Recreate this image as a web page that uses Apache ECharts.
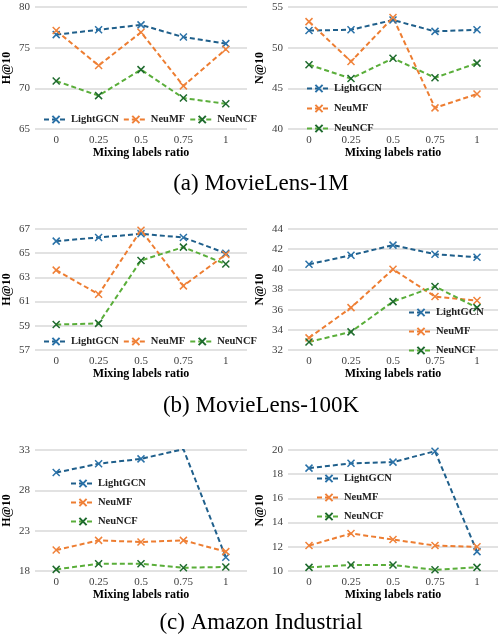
<!DOCTYPE html>
<html>
<head>
<meta charset="utf-8">
<script src="https://cdn.jsdelivr.net/npm/echarts@6/dist/echarts.min.js"></script>
<style>
	html, body { margin: 0; padding: 0; background: #fff; }
	#chart { width: 498px; height: 634px; }
</style>
</head>
<body>
<div id="chart"></div>
<script>
//Data
let ratios = ['0', '0.25', '0.5', '0.75', '1'];
let methods = ['LightGCN', 'NeuMF', 'NeuNCF'];

//MovieLens-1M
let ml1mHit = [
	[76.6, 77.2, 77.8, 76.3, 75.5],
	[77.1, 72.8, 76.9, 70.3, 74.8],
	[70.9, 69.1, 72.3, 68.8, 68.1]
];
let ml1mNdcg = [
	[52.1, 52.2, 53.4, 52.0, 52.2],
	[53.2, 48.3, 53.7, 42.6, 44.3],
	[47.9, 46.2, 48.7, 46.3, 48.1]
];
//MovieLens-100K
let ml100kHit = [
	[66.0, 66.3, 66.6, 66.3, 65.0],
	[63.6, 61.6, 66.9, 62.3, 64.9],
	[59.1, 59.2, 64.4, 65.5, 64.1]
];
let ml100kNdcg = [
	[40.5, 41.4, 42.4, 41.5, 41.2],
	[33.2, 36.2, 40.0, 37.3, 36.9],
	[32.8, 33.8, 36.8, 38.3, 36.2]
];
//Amazon Industrial
let amzHit = [
	[30.2, 31.3, 31.9, 33.1, 19.7],
	[20.6, 21.8, 21.6, 21.8, 20.4],
	[18.2, 18.9, 18.9, 18.4, 18.5]
];
let amzNdcg = [
	[18.5, 18.9, 19.0, 19.9, 11.6],
	[12.1, 13.1, 12.6, 12.1, 12.0],
	[10.3, 10.5, 10.5, 10.1, 10.3]
];

let captions = ['(a) MovieLens-1M', '(b) MovieLens-100K', '(c) Amazon Industrial'];

let lineColors = ['#1F5F8B', '#ED7D31', '#5AAE3A'];
let markColors = ['#2B72A8', '#F0823A', '#1F6B2E'];
let serif = '"Liberation Serif", "DejaVu Serif", serif';
let cross = 'path://M0,0L10,10M0,10L10,0';

//Panels: data, axis range, grid box, legend placement
let panels = [
	{ data: ml1mHit, name: 'H@10', min: 65, max: 80, step: 5, top: 7, bottom: 129, left: 33, width: 214,
		legend: { orient: 'horizontal', left: 43, top: 114, itemGap: 4 } },
	{ data: ml1mNdcg, name: 'N@10', min: 40, max: 55, step: 5, top: 7, bottom: 129, left: 288, width: 210,
		legend: { orient: 'vertical', left: 306, top: 83, itemGap: 9 } },
	{ data: ml100kHit, name: 'H@10', min: 57, max: 67, step: 2, top: 229, bottom: 350, left: 33, width: 214,
		legend: { orient: 'horizontal', left: 43, top: 336, itemGap: 4 } },
	{ data: ml100kNdcg, name: 'N@10', min: 32, max: 44, step: 2, top: 229, bottom: 350, left: 288, width: 210,
		legend: { orient: 'vertical', left: 408, top: 307, itemGap: 8 } },
	{ data: amzHit, name: 'H@10', min: 18, max: 33, step: 5, top: 450, bottom: 571, left: 33, width: 214,
		legend: { orient: 'vertical', left: 70, top: 478, itemGap: 8 } },
	{ data: amzNdcg, name: 'N@10', min: 10, max: 20, step: 2, top: 450, bottom: 571, left: 288, width: 210,
		legend: { orient: 'vertical', left: 316, top: 473, itemGap: 8 } }
];

let grids = [], xAxes = [], yAxes = [], legends = [], series = [];

panels.forEach(function (p, i) {
	grids.push({ left: p.left, top: p.top, width: p.width, height: p.bottom - p.top });
	xAxes.push({
		type: 'category', gridIndex: i, data: ratios, boundaryGap: true,
		name: 'Mixing labels ratio', nameLocation: 'middle', nameGap: 15,
		nameTextStyle: { fontFamily: serif, fontWeight: 'bold', fontSize: 12, color: '#000' },
		axisLine: { show: false }, axisTick: { show: false },
		axisLabel: { fontFamily: serif, fontSize: 11, color: '#404040', margin: 6 }
	});
	yAxes.push({
		type: 'value', gridIndex: i, min: p.min, max: p.max, interval: p.step,
		name: p.name, nameLocation: 'middle', nameGap: 22,
		nameTextStyle: { fontFamily: serif, fontWeight: 'bold', fontSize: 12, color: '#000' },
		axisLine: { show: false }, axisTick: { show: false },
		axisLabel: { fontFamily: serif, fontSize: 11, color: '#404040', margin: 5 },
		splitLine: { lineStyle: { color: '#D9D9D9', width: 1.5 } }
	});
	legends.push(Object.assign({
		data: methods, itemWidth: 24, itemHeight: 9, padding: 0,
		selectedMode: false,
		textStyle: { fontFamily: serif, fontWeight: 'bold', fontSize: 10.5, color: '#222', padding: [0, 0, 0, -2] }
	}, p.legend));

	for (let k = 0; k < methods.length; k++) {
		series.push({
			type: 'line', name: methods[k], xAxisIndex: i, yAxisIndex: i,
			data: p.data[k],
			symbol: cross, symbolSize: 7, showSymbol: true,
			lineStyle: { color: lineColors[k], width: 2, type: [5, 3] },
			itemStyle: { color: markColors[k], borderColor: markColors[k], borderWidth: 1.5 },
			emphasis: { disabled: true },
			animation: false
		});
	}
});

let captionTops = [167, 389, 606];
let titles = captions.map(function (c, i) {
	return {
		text: c, left: 256, top: captionTops[i], textAlign: 'center',
		textStyle: { fontFamily: serif, fontWeight: 'normal', fontSize: 23, color: '#000' }
	};
});

let chart = echarts.init(document.getElementById('chart'));
chart.setOption({
	animation: false,
	title: titles,
	grid: grids,
	xAxis: xAxes,
	yAxis: yAxes,
	legend: legends,
	series: series
});
</script>
</body>
</html>
